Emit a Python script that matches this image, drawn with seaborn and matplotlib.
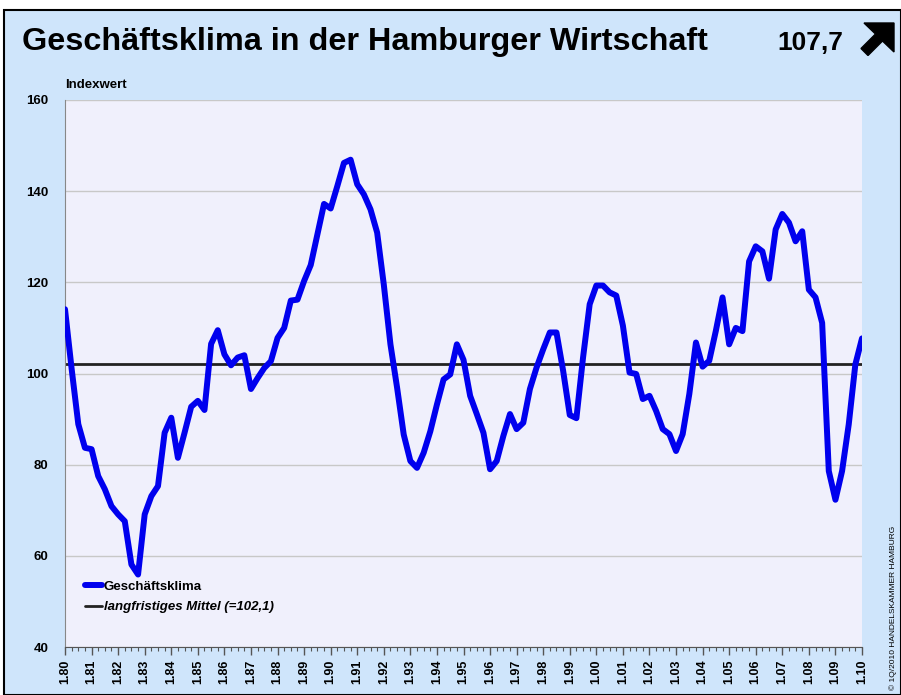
import numpy as np
import pandas as pd
import seaborn as sns
import matplotlib.pyplot as plt
from matplotlib.patches import Rectangle, Polygon
from matplotlib.lines import Line2D

# Geschäftsklima, Quartalswerte 1/1980 .. 1/2010
werte_1980er = [114.1, 101.0, 88.9, 83.7, 83.4, 77.5, 74.6, 70.9, 69.1, 67.6,
                58.1, 55.9, 69.1, 73.1, 75.3, 87.0, 90.3, 81.5, 87.0, 92.7,
                94.0, 92.0, 106.5, 109.5, 104.2, 101.8, 103.5, 104.0, 96.6, 99.0,
                101.2, 102.7, 107.8, 110.0, 116.0, 116.2, 120.3, 123.8, 130.5, 137.2]
werte_1990er = [136.2, 141.1, 146.2, 146.9, 141.5, 139.3, 136.0, 130.9, 119.5, 106.4,
                96.9, 86.6, 80.8, 79.3, 82.6, 87.3, 93.2, 98.7, 99.8, 106.4,
                103.0, 95.1, 91.1, 87.0, 79.0, 80.8, 86.3, 91.1, 87.8, 89.2,
                96.6, 101.3, 105.3, 109.0, 109.0, 100.6, 90.9, 90.2, 103.5, 115.2]
werte_2000er = [119.3, 119.3, 117.8, 117.1, 110.5, 100.2, 99.9, 94.4, 95.1, 91.8,
                87.8, 86.7, 83.0, 86.7, 95.5, 106.8, 101.5, 102.8, 109.4, 116.7,
                106.4, 110.0, 109.3, 124.6, 127.9, 126.8, 120.8, 131.6, 135.0, 133.1,
                129.0, 131.2, 118.4, 116.7, 111.1, 78.6, 72.3, 78.6, 88.8, 102.0]
werte_2010 = [107.7]

mittel = 102.1
aktuell = "107,7"

jahre = [1980, 1981, 1982, 1983, 1984, 1985, 1986, 1987, 1988, 1989, 1990,
         1991, 1992, 1993, 1994, 1995, 1996, 1997, 1998, 1999, 2000,
         2001, 2002, 2003, 2004, 2005, 2006, 2007, 2008, 2009, 2010]
jahr_labels = ["1.80", "1.81", "1.82", "1.83", "1.84", "1.85", "1.86", "1.87",
               "1.88", "1.89", "1.90", "1.91", "1.92", "1.93", "1.94", "1.95",
               "1.96", "1.97", "1.98", "1.99", "1.00", "1.01", "1.02", "1.03",
               "1.04", "1.05", "1.06", "1.07", "1.08", "1.09", "1.10"]

werte = werte_1980er + werte_1990er + werte_2000er + werte_2010
df = pd.DataFrame({"zeit": 1980 + np.arange(len(werte)) / 4, "wert": werte})

sns.set_style("white")
plt.rcParams['font.family'] = ['Liberation Sans', 'DejaVu Sans']
plt.rcParams['text.color'] = 'black'
plt.rcParams['xtick.color'] = '#555555'
plt.rcParams['xtick.labelcolor'] = 'black'
plt.rcParams['ytick.labelcolor'] = 'black'

hellblau = "#cfe5fb"
W, H = 901, 695
fig = plt.figure(figsize=(9.01, 6.95), dpi=100)
fig.patch.set_facecolor("white")
fig.patches.append(Rectangle((4 / W, 0), 1 - 4 / W, 1 - 10 / H, transform=fig.transFigure,
                             facecolor=hellblau, edgecolor="black", linewidth=1.5, zorder=-10))

ax = fig.add_axes([65 / W, 1 - 647 / H, (862 - 65) / W, (647 - 100) / H])
ax.set_facecolor("#f0f0fc")

sns.lineplot(data=df, x="zeit", y="wert", ax=ax, color="#0000ee", linewidth=4.3, zorder=3)
ax.axhline(mittel, color="#222222", linewidth=2, zorder=2)

ax.set_xlim(1980, 2010)
ax.set_ylim(40, 160)
ax.set_yticks([40, 60, 80, 100, 120, 140, 160])
ax.set_xticks(jahre)
ax.set_xticklabels(jahr_labels, rotation=90, fontweight="bold", fontsize=9)
ax.set_xticks(np.arange(1980, 2010.01, 0.25), minor=True)
ax.tick_params(axis="x", which="both", bottom=True)
ax.tick_params(axis="x", which="major", direction="out", length=6, width=1, color="#555555", pad=3)
ax.tick_params(axis="x", which="minor", direction="out", length=3, width=0.8, color="#555555")
ax.tick_params(axis="y", length=0, pad=12, labelsize=9.5)
for lab in ax.get_yticklabels():
    lab.set_fontweight("bold")
ax.yaxis.grid(True, color="#c8c8c8", linewidth=1)
ax.set_axisbelow(True)
ax.set_xlabel("")
ax.set_ylabel("")
for s in ["top", "right"]:
    ax.spines[s].set_visible(False)
ax.spines["left"].set_color("#888888")
ax.spines["bottom"].set_color("#555555")

handles = [Line2D([], [], color="#0000ee", linewidth=4.3),
           Line2D([], [], color="#222222", linewidth=2)]
leg = ax.legend(handles, ["Geschäftsklima", "langfristiges Mittel (=102,1)"],
                loc="lower left", bbox_to_anchor=(0.01, 0.04), frameon=False,
                handlelength=1.3, handletextpad=0.15, labelspacing=0.6, fontsize=9.5)
for txt in leg.get_texts():
    txt.set_fontweight("bold")
    txt.set_color("black")
leg.get_texts()[1].set_fontstyle("italic")

fig.text(22 / W, 1 - 42 / H, "Geschäftsklima in der Hamburger Wirtschaft",
         fontsize=23.3, fontweight="bold", va="center", ha="left", color="black")
fig.text(843 / W, 1 - 43 / H, aktuell, fontsize=19, fontweight="bold", va="center", ha="right",
         color="black")

# Pfeil-Symbol rechts oben
pfeil_px = [(864, 23), (894, 23), (894, 52), (882.5, 41), (868, 55.5), (861, 48.5), (875.5, 34)]
fig.patches.append(Polygon([(x / W, 1 - y / H) for x, y in pfeil_px], closed=True,
                           transform=fig.transFigure, facecolor="black", edgecolor="black"))

fig.text(65 / W, 1 - 85 / H, "Indexwert", fontsize=9.5, fontweight="bold", va="center", ha="left")
fig.text(893 / W, 1 - 690 / H, "© 1Q/2010 HANDELSKAMMER HAMBURG", fontsize=6,
         rotation=90, va="bottom", ha="center")

fig.savefig("out.png", dpi=100, facecolor=fig.get_facecolor())
